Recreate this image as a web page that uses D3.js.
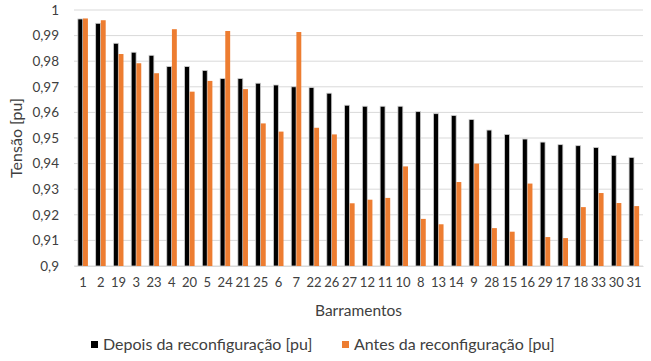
<!DOCTYPE html>
<meta charset="utf-8">
<script src="https://cdn.jsdelivr.net/npm/d3@7"></script>
<style>
  body { margin: 0; background: #fff; }
  text { font-family: Lato, "Open Sans", sans-serif; fill: #404040; }
</style>
<div id="my_dataviz"></div>
<script>

// bus numbers, in the order shown on the x axis
var barramentos = ["1","2","19","3","23","4","20","5","24","21","25","6","7","22","26","27","12","11","10","8","13","14","9","28","15","16","29","17","18","33","30","31"];

// voltage after reconfiguration [pu]
var depois = [0.9965,0.9948,0.9870,0.9835,0.9823,0.9779,0.9779,0.9764,0.9732,0.9732,0.9714,0.9707,0.9700,0.9697,0.9675,0.9628,0.9624,0.9624,0.9624,0.9603,0.9595,0.9588,0.9572,0.9531,0.9514,0.9496,0.9484,0.9474,0.9470,0.9463,0.9432,0.9424];
// voltage before reconfiguration [pu]
var antes = [0.9967,0.9960,0.9828,0.9792,0.9753,0.9925,0.9681,0.9723,0.9918,0.9691,0.9557,0.9525,0.9914,0.9540,0.9514,0.9245,0.9259,0.9266,0.9389,0.9184,0.9163,0.9328,0.9400,0.9148,0.9134,0.9322,0.9113,0.9109,0.9230,0.9285,0.9246,0.9234];

var series = ["Depois da reconfiguração [pu]", "Antes da reconfiguração [pu]"];
var colors = ["#000000", "#ED7D31"];
var yTicks = [0.9,0.91,0.92,0.93,0.94,0.95,0.96,0.97,0.98,0.99,1];

var margin = {top: 10, right: 8, bottom: 95, left: 74},
    width = 651 - margin.left - margin.right,
    height = 361 - margin.top - margin.bottom;

var svg = d3.select("#my_dataviz")
  .append("svg")
    .attr("width", 651)
    .attr("height", 361)
  .append("g")
    .attr("transform", "translate(" + margin.left + "," + margin.top + ")");

var data = barramentos.map(function(b, i) {
  return {bus: b, values: [depois[i], antes[i]]};
});

var x = d3.scaleBand()
  .domain(barramentos)
  .range([0, width]);

var xInner = d3.scaleBand()
  .domain([0, 1])
  .range([0, x.bandwidth()])
  .paddingOuter(0.75)
  .paddingInner(0.05);

var y = d3.scaleLinear()
  .domain([0.9, 1])
  .range([height, 0]);

// gridlines
svg.append("g")
  .selectAll("line")
  .data(yTicks)
  .enter().append("line")
    .attr("x1", 0)
    .attr("x2", width)
    .attr("y1", function(d) { return y(d) })
    .attr("y2", function(d) { return y(d) })
    .attr("stroke", "#d9d9d9")
    .attr("stroke-width", 1);

// y axis labels
svg.append("g")
  .call(d3.axisLeft(y).tickValues(yTicks).tickSize(0).tickPadding(15)
    .tickFormat(function(d) { return d3.format(".2~f")(d).replace(".", ","); }))
  .call(function(g) { g.select(".domain").remove(); })
  .selectAll("text")
    .style("font-size", "13.5px")
    .attr("fill", "#404040");

// bars
var groups = svg.append("g")
  .selectAll("g")
  .data(data)
  .enter().append("g")
    .attr("transform", function(d) { return "translate(" + x(d.bus) + ",0)"; });

groups.selectAll("rect")
  .data(function(d) { return d.values.map(function(v, i) { return {i: i, v: v}; }); })
  .enter().append("rect")
    .attr("x", function(d) { return xInner(d.i) })
    .attr("y", function(d) { return y(d.v) })
    .attr("width", xInner.bandwidth())
    .attr("height", function(d) { return height - y(d.v) })
    .attr("fill", function(d) { return colors[d.i] })
    .attr("stroke", function(d) { return d.i == 0 ? "#d0d0d0" : "none" })
    .attr("stroke-width", 0.8);

// x axis
svg.append("g")
  .attr("transform", "translate(0," + height + ")")
  .call(d3.axisBottom(x).tickSize(0).tickPadding(12))
  .call(function(g) { g.select(".domain").attr("stroke", "#d9d9d9"); })
  .selectAll("text")
    .style("font-size", "13px")
    .attr("fill", "#404040");

// axis titles
svg.append("text")
  .attr("x", width / 2)
  .attr("y", height + 50)
  .attr("text-anchor", "middle")
  .style("font-size", "15.5px")
  .text("Barramentos");

svg.append("text")
  .attr("transform", "rotate(-90)")
  .attr("x", -height / 2)
  .attr("y", -52)
  .attr("text-anchor", "middle")
  .style("font-size", "16px")
  .text("Tensão [pu]");

// legend
var legendX = [91, 342];
var legend = svg.append("g")
  .selectAll("g")
  .data(series)
  .enter().append("g")
    .attr("transform", function(d, i) { return "translate(" + (legendX[i] - margin.left) + "," + (height + 80) + ")"; });

legend.append("rect")
  .attr("width", 7)
  .attr("height", 7)
  .attr("y", -5)
  .attr("fill", function(d, i) { return colors[i] });

legend.append("text")
  .attr("x", 12)
  .attr("y", 0)
  .attr("dominant-baseline", "middle")
  .style("font-size", "16px")
  .text(function(d) { return d });

</script>
